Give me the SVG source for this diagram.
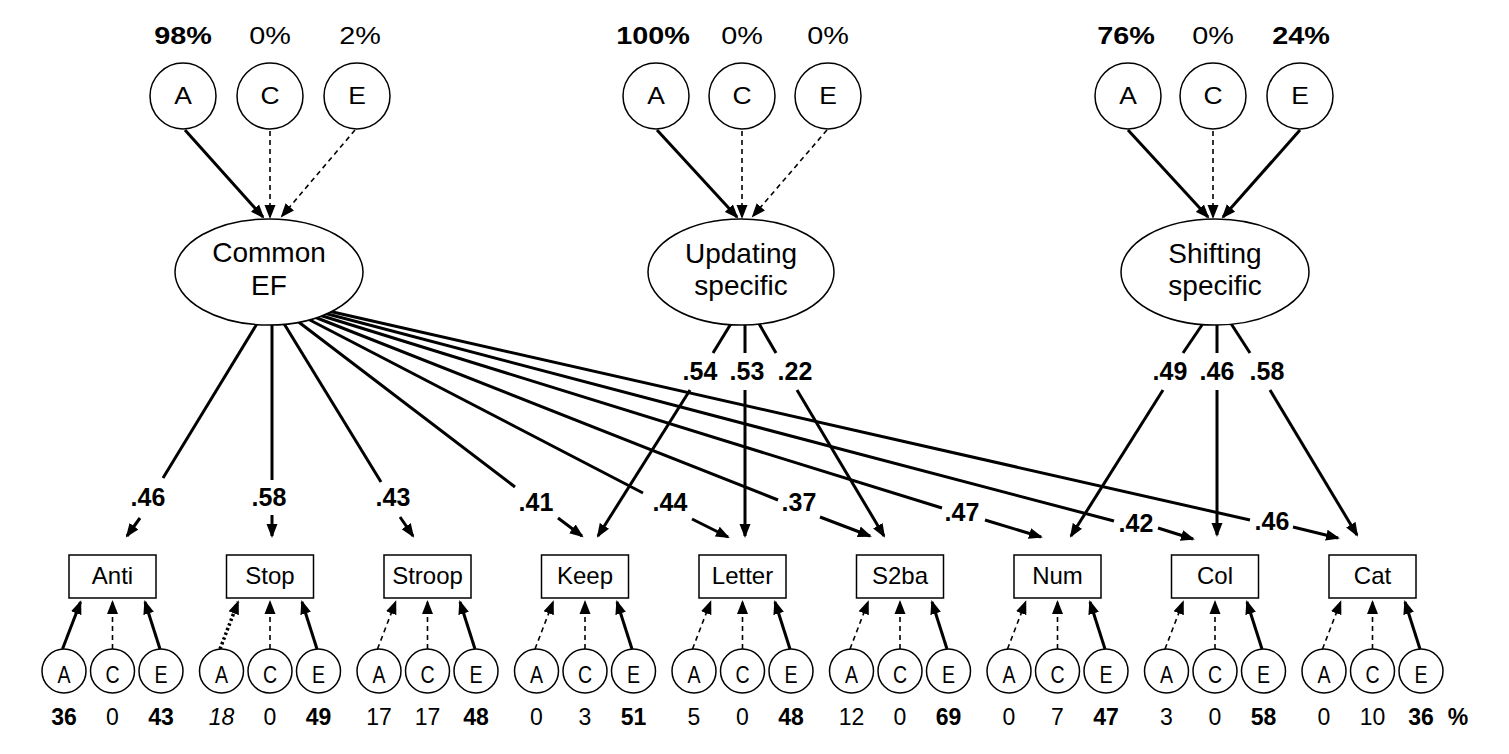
<svg xmlns="http://www.w3.org/2000/svg" width="1509" height="754" viewBox="0 0 1509 754">
<style>
.n{fill:#fff;stroke:#000;stroke-width:1.5}
.t{font-family:"Liberation Sans",Arial,sans-serif;fill:#000;text-anchor:middle}
.b{font-weight:bold}
.i{font-style:italic}
.pc{font-size:24px}
.lt{font-size:23px}
.el{font-size:28px}
.ld{font-size:25px;font-weight:bold}
.bx{font-size:24px}
.sm{font-size:23px}
.nm{font-size:23px}
.s{stroke:#000;stroke-width:3;fill:none}
.s2{stroke:#000;stroke-width:3;fill:none;marker-end:url(#ah)}
.d{stroke:#000;stroke-width:1.6;stroke-dasharray:5 4;fill:none;marker-end:url(#ah)}
.dt{stroke:#000;stroke-width:3.5;stroke-dasharray:2.5 2.5;fill:none;marker-end:url(#ah)}
</style>
<defs>
<marker id="ah" markerUnits="userSpaceOnUse" markerWidth="15" markerHeight="12" refX="12" refY="6" orient="auto" viewBox="0 0 15 12">
<path d="M0,0.5 L14,6 L0,11.5 z" fill="#000"/>
</marker>
</defs>
<rect width="1509" height="754" fill="#fff"/>

<g id="connectors">
<line class="s2" x1="185" y1="130" x2="263" y2="217"/>
<line class="d" x1="270" y1="131" x2="270" y2="217"/>
<line class="d" x1="355" y1="130" x2="282" y2="216"/>
<line class="s2" x1="657" y1="130" x2="737" y2="217"/>
<line class="d" x1="742" y1="131" x2="742" y2="217"/>
<line class="d" x1="827" y1="130" x2="753" y2="216"/>
<line class="s2" x1="1128" y1="130" x2="1208" y2="217"/>
<line class="d" x1="1213" y1="131" x2="1213" y2="217"/>
<line class="s2" x1="1300" y1="130" x2="1223" y2="217"/>

<line class="s" x1="258" y1="322" x2="163" y2="478"/>
<line class="s2" x1="140" y1="518" x2="127" y2="536"/>
<line class="s" x1="272" y1="322" x2="272" y2="480"/>
<line class="s2" x1="272" y1="515" x2="272" y2="536"/>
<line class="s" x1="283" y1="322" x2="381" y2="482"/>
<line class="s2" x1="400" y1="517" x2="413" y2="536"/>
<line class="s" x1="296" y1="320" x2="515" y2="487"/>
<line class="s2" x1="558" y1="518" x2="582" y2="536"/>
<line class="s" x1="306" y1="318" x2="643" y2="493"/>
<line class="s2" x1="692" y1="519" x2="728" y2="537"/>
<line class="s" x1="312" y1="316" x2="778" y2="500"/>
<line class="s2" x1="820" y1="517" x2="870" y2="536"/>
<line class="s" x1="316" y1="314" x2="942" y2="508"/>
<line class="s2" x1="985" y1="520" x2="1041" y2="537"/>
<line class="s" x1="320" y1="312" x2="1114" y2="521"/>
<line class="s2" x1="1158" y1="528" x2="1193" y2="539"/>
<line class="s" x1="324" y1="310" x2="1250" y2="520"/>
<line class="s2" x1="1293" y1="527" x2="1338" y2="538"/>

<line class="s" x1="732" y1="322" x2="713" y2="353"/>
<line class="s2" x1="690" y1="390" x2="598" y2="536"/>
<line class="s" x1="745" y1="324" x2="745" y2="353"/>
<line class="s2" x1="745" y1="390" x2="745" y2="536"/>
<line class="s" x1="758" y1="322" x2="776" y2="353"/>
<line class="s2" x1="797" y1="390" x2="884" y2="536"/>

<line class="s" x1="1204" y1="322" x2="1183" y2="353"/>
<line class="s2" x1="1163" y1="390" x2="1071" y2="536"/>
<line class="s" x1="1217" y1="324" x2="1217" y2="353"/>
<line class="s2" x1="1217" y1="390" x2="1217" y2="535"/>
<line class="s" x1="1230" y1="322" x2="1250" y2="353"/>
<line class="s2" x1="1270" y1="390" x2="1357" y2="535"/>

<line class="s2" x1="62.5" y1="649" x2="80.5" y2="602"/>
<line class="d" x1="112.5" y1="649" x2="112.5" y2="602"/>
<line class="s2" x1="160" y1="649" x2="145" y2="602"/>

<line class="dt" x1="220" y1="649" x2="238" y2="602"/>
<line class="d" x1="270" y1="649" x2="270" y2="602"/>
<line class="s2" x1="317" y1="649" x2="302" y2="602"/>

<line class="d" x1="377.5" y1="649" x2="395.5" y2="602"/>
<line class="d" x1="427.5" y1="649" x2="427.5" y2="602"/>
<line class="s2" x1="475" y1="649" x2="460" y2="602"/>

<line class="d" x1="535" y1="649" x2="553" y2="602"/>
<line class="d" x1="585" y1="649" x2="585" y2="602"/>
<line class="s2" x1="632" y1="649" x2="617" y2="602"/>

<line class="d" x1="692.5" y1="649" x2="710.5" y2="602"/>
<line class="d" x1="742.5" y1="649" x2="742.5" y2="602"/>
<line class="s2" x1="790" y1="649" x2="775" y2="602"/>

<line class="d" x1="850" y1="649" x2="868" y2="602"/>
<line class="d" x1="900" y1="649" x2="900" y2="602"/>
<line class="s2" x1="947" y1="649" x2="932" y2="602"/>

<line class="d" x1="1007.5" y1="649" x2="1025.5" y2="602"/>
<line class="d" x1="1057.5" y1="649" x2="1057.5" y2="602"/>
<line class="s2" x1="1105" y1="649" x2="1090" y2="602"/>

<line class="d" x1="1165" y1="649" x2="1183" y2="602"/>
<line class="d" x1="1215" y1="649" x2="1215" y2="602"/>
<line class="s2" x1="1262" y1="649" x2="1247" y2="602"/>

<line class="d" x1="1322.5" y1="649" x2="1340.5" y2="602"/>
<line class="d" x1="1372.5" y1="649" x2="1372.5" y2="602"/>
<line class="s2" x1="1420" y1="649" x2="1405" y2="602"/>
</g>

<g id="loading-labels">
<text class="t ld" x="148" y="506">.46</text>
<text class="t ld" x="269" y="506">.58</text>
<text class="t ld" x="393" y="506">.43</text>
<text class="t ld" x="536" y="511">.41</text>
<text class="t ld" x="670" y="511">.44</text>
<text class="t ld" x="799" y="511">.37</text>
<text class="t ld" x="962" y="521">.47</text>
<text class="t ld" x="1136" y="532">.42</text>
<text class="t ld" x="1272" y="530">.46</text>
<text class="t ld" x="700" y="380">.54</text>
<text class="t ld" x="747" y="380">.53</text>
<text class="t ld" x="795" y="380">.22</text>
<text class="t ld" x="1170" y="380">.49</text>
<text class="t ld" x="1217" y="380">.46</text>
<text class="t ld" x="1267" y="380">.58</text>
</g>

<g id="common-ef">
<ellipse class="n" cx="269" cy="272" rx="94" ry="53"/>
<text class="t el" x="269" y="262">Common</text>
<text class="t el" x="269" y="295">EF</text>
</g>
<g id="common-ace">
<circle class="n" cx="183" cy="96" r="33"/><text class="t lt" transform="translate(183,104) scale(1.15,1)">A</text>
<circle class="n" cx="270" cy="96" r="33"/><text class="t lt" transform="translate(270,104) scale(1.15,1)">C</text>
<circle class="n" cx="357" cy="96" r="33"/><text class="t lt" transform="translate(357,104) scale(1.15,1)">E</text>
<text class="t pc b" transform="translate(183,44) scale(1.2,1)">98%</text>
<text class="t pc" transform="translate(270,44) scale(1.2,1)">0%</text>
<text class="t pc" transform="translate(360,44) scale(1.2,1)">2%</text>
</g>

<g id="updating-specific">
<ellipse class="n" cx="741" cy="272" rx="93" ry="53"/>
<text class="t el" x="741" y="263">Updating</text>
<text class="t el" x="741" y="295">specific</text>
</g>
<g id="updating-ace">
<circle class="n" cx="656" cy="96" r="33"/><text class="t lt" transform="translate(656,104) scale(1.15,1)">A</text>
<circle class="n" cx="742" cy="96" r="33"/><text class="t lt" transform="translate(742,104) scale(1.15,1)">C</text>
<circle class="n" cx="828" cy="96" r="33"/><text class="t lt" transform="translate(828,104) scale(1.15,1)">E</text>
<text class="t pc b" transform="translate(653,44) scale(1.2,1)">100%</text>
<text class="t pc" transform="translate(742,44) scale(1.2,1)">0%</text>
<text class="t pc" transform="translate(828,44) scale(1.2,1)">0%</text>
</g>

<g id="shifting-specific">
<ellipse class="n" cx="1215" cy="272" rx="94" ry="53"/>
<text class="t el" x="1215" y="263">Shifting</text>
<text class="t el" x="1215" y="295">specific</text>
</g>
<g id="shifting-ace">
<circle class="n" cx="1128" cy="96" r="33"/><text class="t lt" transform="translate(1128,104) scale(1.15,1)">A</text>
<circle class="n" cx="1213" cy="96" r="33"/><text class="t lt" transform="translate(1213,104) scale(1.15,1)">C</text>
<circle class="n" cx="1300" cy="96" r="33"/><text class="t lt" transform="translate(1300,104) scale(1.15,1)">E</text>
<text class="t pc b" transform="translate(1126,44) scale(1.2,1)">76%</text>
<text class="t pc" transform="translate(1213,44) scale(1.2,1)">0%</text>
<text class="t pc b" transform="translate(1301,44) scale(1.2,1)">24%</text>
</g>

<g id="anti">
<rect class="n" x="69" y="555" width="87" height="43"/><text class="t bx" x="112.5" y="584">Anti</text>
<circle class="n" cx="64" cy="671" r="22"/><text class="t sm" transform="translate(64,683) scale(0.85,1)">A</text>
<circle class="n" cx="112.5" cy="671" r="22"/><text class="t sm" transform="translate(112.5,683) scale(0.85,1)">C</text>
<circle class="n" cx="161" cy="671" r="22"/><text class="t sm" transform="translate(161,683) scale(0.85,1)">E</text>
<text class="t nm b" x="64" y="725">36</text><text class="t nm" x="112.5" y="725">0</text><text class="t nm b" x="161" y="725">43</text>
</g>
<g id="stop">
<rect class="n" x="226.5" y="555" width="87" height="43"/><text class="t bx" x="270" y="584">Stop</text>
<circle class="n" cx="221.5" cy="671" r="22"/><text class="t sm" transform="translate(221.5,683) scale(0.85,1)">A</text>
<circle class="n" cx="270" cy="671" r="22"/><text class="t sm" transform="translate(270,683) scale(0.85,1)">C</text>
<circle class="n" cx="318.5" cy="671" r="22"/><text class="t sm" transform="translate(318.5,683) scale(0.85,1)">E</text>
<text class="t nm i" x="221.5" y="725">18</text><text class="t nm" x="270" y="725">0</text><text class="t nm b" x="318.5" y="725">49</text>
</g>
<g id="stroop">
<rect class="n" x="384" y="555" width="87" height="43"/><text class="t bx" x="427.5" y="584">Stroop</text>
<circle class="n" cx="379" cy="671" r="22"/><text class="t sm" transform="translate(379,683) scale(0.85,1)">A</text>
<circle class="n" cx="427.5" cy="671" r="22"/><text class="t sm" transform="translate(427.5,683) scale(0.85,1)">C</text>
<circle class="n" cx="476" cy="671" r="22"/><text class="t sm" transform="translate(476,683) scale(0.85,1)">E</text>
<text class="t nm" x="379" y="725">17</text><text class="t nm" x="427.5" y="725">17</text><text class="t nm b" x="476" y="725">48</text>
</g>
<g id="keep">
<rect class="n" x="541.5" y="555" width="87" height="43"/><text class="t bx" x="585" y="584">Keep</text>
<circle class="n" cx="536.5" cy="671" r="22"/><text class="t sm" transform="translate(536.5,683) scale(0.85,1)">A</text>
<circle class="n" cx="585" cy="671" r="22"/><text class="t sm" transform="translate(585,683) scale(0.85,1)">C</text>
<circle class="n" cx="633.5" cy="671" r="22"/><text class="t sm" transform="translate(633.5,683) scale(0.85,1)">E</text>
<text class="t nm" x="536.5" y="725">0</text><text class="t nm" x="585" y="725">3</text><text class="t nm b" x="633.5" y="725">51</text>
</g>
<g id="letter">
<rect class="n" x="699" y="555" width="87" height="43"/><text class="t bx" x="742.5" y="584">Letter</text>
<circle class="n" cx="694" cy="671" r="22"/><text class="t sm" transform="translate(694,683) scale(0.85,1)">A</text>
<circle class="n" cx="742.5" cy="671" r="22"/><text class="t sm" transform="translate(742.5,683) scale(0.85,1)">C</text>
<circle class="n" cx="791" cy="671" r="22"/><text class="t sm" transform="translate(791,683) scale(0.85,1)">E</text>
<text class="t nm" x="694" y="725">5</text><text class="t nm" x="742.5" y="725">0</text><text class="t nm b" x="791" y="725">48</text>
</g>
<g id="s2ba">
<rect class="n" x="856.5" y="555" width="87" height="43"/><text class="t bx" x="900" y="584">S2ba</text>
<circle class="n" cx="851.5" cy="671" r="22"/><text class="t sm" transform="translate(851.5,683) scale(0.85,1)">A</text>
<circle class="n" cx="900" cy="671" r="22"/><text class="t sm" transform="translate(900,683) scale(0.85,1)">C</text>
<circle class="n" cx="948.5" cy="671" r="22"/><text class="t sm" transform="translate(948.5,683) scale(0.85,1)">E</text>
<text class="t nm" x="851.5" y="725">12</text><text class="t nm" x="900" y="725">0</text><text class="t nm b" x="948.5" y="725">69</text>
</g>
<g id="num">
<rect class="n" x="1014" y="555" width="87" height="43"/><text class="t bx" x="1057.5" y="584">Num</text>
<circle class="n" cx="1009" cy="671" r="22"/><text class="t sm" transform="translate(1009,683) scale(0.85,1)">A</text>
<circle class="n" cx="1057.5" cy="671" r="22"/><text class="t sm" transform="translate(1057.5,683) scale(0.85,1)">C</text>
<circle class="n" cx="1106" cy="671" r="22"/><text class="t sm" transform="translate(1106,683) scale(0.85,1)">E</text>
<text class="t nm" x="1009" y="725">0</text><text class="t nm" x="1057.5" y="725">7</text><text class="t nm b" x="1106" y="725">47</text>
</g>
<g id="col">
<rect class="n" x="1171.5" y="555" width="87" height="43"/><text class="t bx" x="1215" y="584">Col</text>
<circle class="n" cx="1166.5" cy="671" r="22"/><text class="t sm" transform="translate(1166.5,683) scale(0.85,1)">A</text>
<circle class="n" cx="1215" cy="671" r="22"/><text class="t sm" transform="translate(1215,683) scale(0.85,1)">C</text>
<circle class="n" cx="1263.5" cy="671" r="22"/><text class="t sm" transform="translate(1263.5,683) scale(0.85,1)">E</text>
<text class="t nm" x="1166.5" y="725">3</text><text class="t nm" x="1215" y="725">0</text><text class="t nm b" x="1263.5" y="725">58</text>
</g>
<g id="cat">
<rect class="n" x="1329" y="555" width="87" height="43"/><text class="t bx" x="1372.5" y="584">Cat</text>
<circle class="n" cx="1324" cy="671" r="22"/><text class="t sm" transform="translate(1324,683) scale(0.85,1)">A</text>
<circle class="n" cx="1372.5" cy="671" r="22"/><text class="t sm" transform="translate(1372.5,683) scale(0.85,1)">C</text>
<circle class="n" cx="1421" cy="671" r="22"/><text class="t sm" transform="translate(1421,683) scale(0.85,1)">E</text>
<text class="t nm" x="1324" y="725">0</text><text class="t nm" x="1372.5" y="725">10</text><text class="t nm b" x="1421" y="725">36</text>
<text class="t nm b" x="1458" y="725">%</text>
</g>
</svg>
